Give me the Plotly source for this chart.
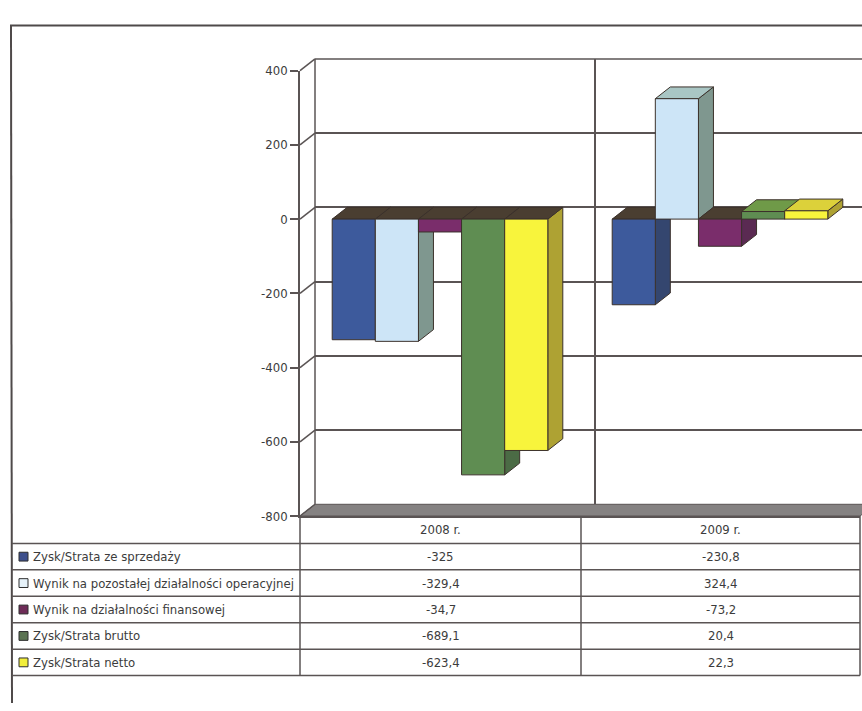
import plotly.graph_objects as go

# ---- data -------------------------------------------------------------
categories = ["2008 r.", "2009 r."]
series_names = [
    "Zysk/Strata ze sprzedaży",
    "Wynik na pozostałej działalności operacyjnej",
    "Wynik na działalności finansowej",
    "Zysk/Strata brutto",
    "Zysk/Strata netto",
]
zysk_ze_sprzedazy = [-325, -230.8]
wynik_pozostala = [-329.4, 324.4]
wynik_finansowa = [-34.7, -73.2]
zysk_brutto = [-689.1, 20.4]
zysk_netto = [-623.4, 22.3]
y_tick_values = [-800, -600, -400, -200, 0, 200, 400]
y_tick_labels = ["-800", "-600", "-400", "-200", "0", "200", "400"]

series_values = [zysk_ze_sprzedazy, wynik_pozostala, wynik_finansowa,
                 zysk_brutto, zysk_netto]

# ---- styling ----------------------------------------------------------
front_colors = ["#3d5a9c", "#cde5f7", "#7a2d6b", "#5f8d52", "#f8f43c"]
side_colors = ["#34466f", "#7f978f", "#5a2a52", "#4b6b45", "#aea233"]
top_colors = ["#4d6aa8", "#a9c6c4", "#8a4a7c", "#6f9a48", "#dcd13a"]
key_colors = ["#3d4f8c", "#e6f2fa", "#6e2c58", "#5b7352", "#f2ee3a"]
NEG_TOP = "#4a3e31"
EDGE = "#3b312b"
GRID = "#5a5454"
TEXT = "#3c3c3c"
FONT = "Liberation Sans Narrow, DejaVu Sans Condensed, Arial Narrow, sans-serif"

W, H = 862, 711


def fx(px):
    return px / W


def fy(py):
    return 1 - py / H


# front plane of the plot box, in pixels
FX0, FX1 = 300, 860
FY_TOP, FY_BOT = 65, 520
# oblique depth offset of the back wall
DX, DY = 15, 12
Y_MIN, Y_MAX = -800, 400
X_MIN, X_MAX = -0.5, 1.5

ux = (FX1 - FX0) / (X_MAX - X_MIN)
uy = (FY_BOT - FY_TOP) / (Y_MAX - Y_MIN)
depth_x = DX / ux
depth_y = DY / uy


def val_py(v):
    return FY_BOT - (v - Y_MIN) * uy


BARGAP = 0.23
n_series = len(series_values)
bar_w = (1 - BARGAP) / n_series
offsets = [-(1 - BARGAP) / 2 + bar_w * k for k in range(n_series)]
xs = list(range(len(categories)))


def fmt(v):
    if float(v).is_integer():
        return str(int(v))
    return f"{v:.1f}".replace(".", ",")


fig = go.Figure()

# back wall subplot (gridlines only)
fig.add_trace(go.Scatter(x=[None], y=[None], xaxis="x", yaxis="y",
                         showlegend=False, hoverinfo="skip"))

# side and top faces of the boxes, drawn beneath the front faces
for k, vals in enumerate(series_values):
    for c, v in zip(xs, vals):
        x0 = c + offsets[k]
        x1 = x0 + bar_w
        lo, hi = min(0, v), max(0, v)
        fig.add_trace(go.Scatter(
            x=[x1, x1, x1 + depth_x, x1 + depth_x, x1],
            y=[lo, hi, hi + depth_y, lo + depth_y, lo],
            xaxis="x2", yaxis="y2", mode="lines", fill="toself",
            fillcolor=side_colors[k], line=dict(color=EDGE, width=1),
            showlegend=False, hoverinfo="skip"))
        fig.add_trace(go.Scatter(
            x=[x0, x1, x1 + depth_x, x0 + depth_x, x0],
            y=[hi, hi, hi + depth_y, hi + depth_y, hi],
            xaxis="x2", yaxis="y2", mode="lines", fill="toself",
            fillcolor=top_colors[k] if v > 0 else NEG_TOP,
            line=dict(color=EDGE, width=1),
            showlegend=False, hoverinfo="skip"))

# front faces of the bars
for k, vals in enumerate(series_values):
    fig.add_trace(go.Bar(
        x=xs, y=vals, name=series_names[k], xaxis="x3", yaxis="y3",
        width=bar_w, offset=offsets[k],
        marker=dict(color=front_colors[k], line=dict(color=EDGE, width=1)),
        showlegend=False, hoverinfo="skip"))

shapes = []


def line(x0, y0, x1, y1, color=GRID, width=1.5, layer="above"):
    shapes.append(dict(type="line", xref="paper", yref="paper",
                       x0=fx(x0), y0=fy(y0), x1=fx(x1), y1=fy(y1),
                       line=dict(color=color, width=width), layer=layer))


# floor of the 3-D box
floor_path = "M {} {} L {} {} L {} {} L {} {} Z".format(
    fx(FX0), fy(FY_BOT), fx(FX1), fy(FY_BOT),
    fx(FX1 + DX), fy(FY_BOT - DY), fx(FX0 + DX), fy(FY_BOT - DY))
shapes.append(dict(type="path", xref="paper", yref="paper", path=floor_path,
                   fillcolor="#858282", line=dict(color=GRID, width=1),
                   layer="below"))

# side-wall gridlines joining the front axis to the back wall
for t in y_tick_values:
    py = val_py(t)
    line(FX0, py, FX0 + DX, py - DY, layer="below")

# top and left edges of the back wall
line(FX0 + DX, FY_TOP - DY, W, FY_TOP - DY, layer="below")
line(FX0 + DX, FY_TOP - DY, FX0 + DX, FY_BOT - DY, layer="below")

# outer frame
line(10, 19, W, 19, color="#4f4a4a", width=2)
line(11, 19, 12, H, color="#4f4a4a", width=2)

# data table grid
ROW_TOP = FY_BOT
HEADER_BOT = 548
ROW_H = 27
row_edges = [HEADER_BOT + ROW_H * i for i in range(n_series + 1)]
COL_EDGES = [FX0, 581, FX1]
for yy in row_edges:
    line(12, yy, FX1, yy)
for xx in COL_EDGES:
    line(xx, ROW_TOP, xx, row_edges[-1])

annotations = []
col_centers = [(COL_EDGES[i] + COL_EDGES[i + 1]) / 2 for i in range(len(categories))]
for cx, cat in zip(col_centers, categories):
    annotations.append(dict(x=fx(cx), y=fy((ROW_TOP + HEADER_BOT) / 2),
                            xref="paper", yref="paper", text=cat,
                            showarrow=False, xanchor="center", yanchor="middle",
                            font=dict(family=FONT, size=13, color=TEXT)))

for k, vals in enumerate(series_values):
    cy = (row_edges[k] + row_edges[k + 1]) / 2
    shapes.append(dict(type="rect", xref="paper", yref="paper",
                       x0=fx(19), x1=fx(28), y0=fy(cy - 4.5), y1=fy(cy + 4.5),
                       fillcolor=key_colors[k], line=dict(color="#2e2e2e", width=1)))
    annotations.append(dict(x=fx(31), y=fy(cy), xref="paper", yref="paper",
                            text=series_names[k], showarrow=False,
                            xanchor="left", yanchor="middle",
                            font=dict(family=FONT, size=13, color=TEXT)))
    for cx, v in zip(col_centers, vals):
        annotations.append(dict(x=fx(cx), y=fy(cy), xref="paper", yref="paper",
                                text=fmt(v), showarrow=False,
                                xanchor="center", yanchor="middle",
                                font=dict(family=FONT, size=13, color=TEXT)))

hidden = dict(visible=False)
fig.update_layout(
    width=W, height=H,
    margin=dict(l=0, r=0, t=0, b=0),
    paper_bgcolor="white",
    plot_bgcolor="rgba(0,0,0,0)",
    barmode="overlay",
    showlegend=False,
    # back wall
    xaxis=dict(domain=[fx(FX0 + DX), 1],
               range=[X_MIN, X_MIN + (W - FX0 - DX) / ux],
               tickvals=[-0.5, 0.5, 1.5], showgrid=True, gridcolor=GRID,
               gridwidth=1.5, showticklabels=False, ticks="", zeroline=False,
               showline=False, anchor="y", fixedrange=True),
    yaxis=dict(domain=[fy(FY_BOT - DY), fy(FY_TOP - DY)],
               range=[Y_MIN, Y_MAX], tickvals=y_tick_values, showgrid=True,
               gridcolor=GRID, gridwidth=1.5, showticklabels=False, ticks="",
               zeroline=False, showline=False, anchor="x", fixedrange=True),
    # box side/top faces
    xaxis2=dict(domain=[fx(FX0), fx(FX1)], range=[X_MIN, X_MAX],
                anchor="y2", **hidden),
    yaxis2=dict(domain=[fy(FY_BOT), fy(FY_TOP)], range=[Y_MIN, Y_MAX],
                anchor="x2", **hidden),
    # front faces and value axis
    xaxis3=dict(domain=[fx(FX0), fx(FX1)], range=[X_MIN, X_MAX], anchor="y3",
                showline=True, linecolor=GRID, linewidth=1.5,
                showticklabels=False, ticks="", showgrid=False, zeroline=False),
    yaxis3=dict(domain=[fy(FY_BOT), fy(FY_TOP)], range=[Y_MIN, Y_MAX],
                anchor="x3", showline=True, linecolor=GRID, linewidth=1.5,
                ticks="outside", ticklen=8, tickcolor=GRID, tickwidth=1.5,
                tickvals=y_tick_values, ticktext=y_tick_labels,
                tickfont=dict(family=FONT, size=13, color=TEXT),
                showgrid=False, zeroline=False),
    shapes=shapes,
    annotations=annotations,
)

fig.write_html("out.html")
